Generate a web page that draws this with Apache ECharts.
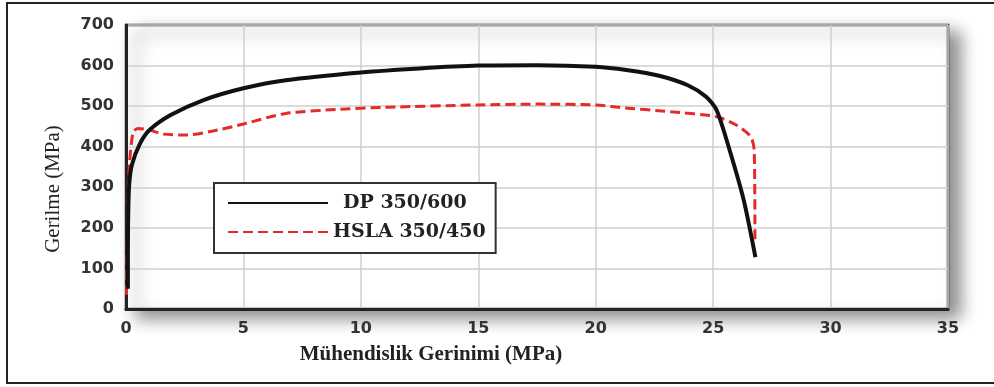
<!DOCTYPE html>
<html>
<head>
<meta charset="utf-8">
<script src="https://cdn.jsdelivr.net/npm/echarts@6/dist/echarts.min.js"></script>
<style>
html,body{margin:0;padding:0;background:#fff;}
#chart{width:994px;height:387px;}
</style>
</head>
<body>
<div id="chart"></div>
<script>
// Data
const seriesNames = ['DP 350/600', 'HSLA 350/450'];
const dpStrain = [0.08, 0.08, 0.1, 0.14, 0.25, 0.6, 1.0, 1.9, 3.3, 5.0, 6.8, 10, 12.5, 15, 17.5, 20, 21.3, 22.7, 23.9, 24.7, 25.15, 25.7, 26.3, 26.8];
const dpStress = [50, 150, 250, 310, 355, 408, 441, 478, 515, 544, 564, 583, 593, 600, 601, 597, 589, 575, 552, 523, 490, 392, 269, 128];
const hslaStrain = [0.02, 0.05, 0.1, 0.15, 0.3, 0.5, 1.0, 1.6, 2.6, 3.9, 5.0, 6.8, 9, 11, 15, 17.6, 20, 21, 23.2, 25.15, 26.0, 26.6, 26.75, 26.78];
const hslaStress = [35, 150, 300, 360, 435, 445, 441, 431, 429, 441, 456, 482, 492, 497, 503, 505, 503, 497, 486, 474, 453, 425, 390, 166];
const xTicks = [0, 5, 10, 15, 20, 25, 30, 35];
const yTicks = [0, 100, 200, 300, 400, 500, 600, 700];
const xTitle = 'Mühendislik Gerinimi (MPa)';
const yTitle = 'Gerilme (MPa)';

const toPairs = (xs, ys) => xs.map((x, i) => [x, ys[i]]);
const tickFont = {fontFamily: 'DejaVu Sans', fontWeight: 'bold', fontSize: 16, color: '#333'};
const legendFont = {fontFamily: 'DejaVu Serif', fontWeight: 'bold', fontSize: 19, color: '#222', lineHeight: 20};

const chart = echarts.init(document.getElementById('chart'), null, {renderer: 'canvas'});
chart.setOption({
  animation: false,
  backgroundColor: '#fff',
  graphic: [{
    type: 'polyline', silent: true, z: -10,
    shape: {points: [[1000, 3], [7, 3], [7, 383], [1000, 383]]},
    style: {fill: 'none', stroke: '#222', lineWidth: 2}
  }],
  grid: {
    left: 126, right: 46, top: 25, bottom: 78,
    show: true, backgroundColor: '#fff',
    borderColor: '#333', borderWidth: 2.5,
    shadowColor: 'rgba(0,0,0,0.45)', shadowBlur: 16, shadowOffsetX: 11, shadowOffsetY: 8
  },
  legend: {
    data: seriesNames,
    orient: 'vertical',
    left: 214, top: 183,
    padding: [10, 10, 11, 13],
    itemWidth: 100, itemHeight: 14, itemGap: 9,
    backgroundColor: '#fff', borderColor: '#333', borderWidth: 2,
    itemStyle: {color: 'rgba(0,0,0,0)', borderWidth: 0, opacity: 0},
    formatter: function (name) { return name === seriesNames[0] ? '{a|' + name + '}' : '{b|' + name + '}'; },
    textStyle: Object.assign({
      rich: {
        a: Object.assign({padding: [0, 0, 0, 10]}, legendFont),
        b: Object.assign({}, legendFont)
      }
    }, legendFont)
  },
  xAxis: {
    type: 'value', min: xTicks[0], max: xTicks[xTicks.length - 1], interval: 5,
    name: xTitle, nameLocation: 'middle', nameGap: 35,
    nameTextStyle: {fontFamily: 'Liberation Serif', fontWeight: 'bold', fontSize: 21, color: '#222', padding: [0, 212, 0, 0]},
    axisLine: {show: true, lineStyle: {color: '#222', width: 3}},
    axisTick: {show: false},
    axisLabel: Object.assign({margin: 12}, tickFont),
    splitLine: {show: true, lineStyle: {color: '#cfcfcf', width: 1.5}}
  },
  yAxis: {
    type: 'value', min: yTicks[0], max: yTicks[yTicks.length - 1], interval: 100,
    name: yTitle, nameLocation: 'middle', nameGap: 62,
    nameTextStyle: {fontFamily: 'Liberation Serif', fontSize: 21, color: '#222', padding: [0, 44, 0, 0]},
    axisLine: {show: true, lineStyle: {color: '#222', width: 3}},
    axisTick: {show: false},
    axisLabel: Object.assign({margin: 12}, tickFont),
    splitLine: {show: true, lineStyle: {color: '#cfcfcf', width: 1.5}}
  },
  series: [
    {
      name: seriesNames[0], type: 'line', data: toPairs(dpStrain, dpStress),
      symbol: 'none', smooth: 0.25, z: 3,
      lineStyle: {color: '#111', width: 4}, itemStyle: {color: '#111'}
    },
    {
      name: seriesNames[1], type: 'line', data: toPairs(hslaStrain, hslaStress),
      symbol: 'none', smooth: 0.25, z: 2,
      lineStyle: {color: '#e52a2a', width: 3, type: [10, 5]}, itemStyle: {color: '#e52a2a'}
    }
  ]
});
</script>
</body>
</html>
